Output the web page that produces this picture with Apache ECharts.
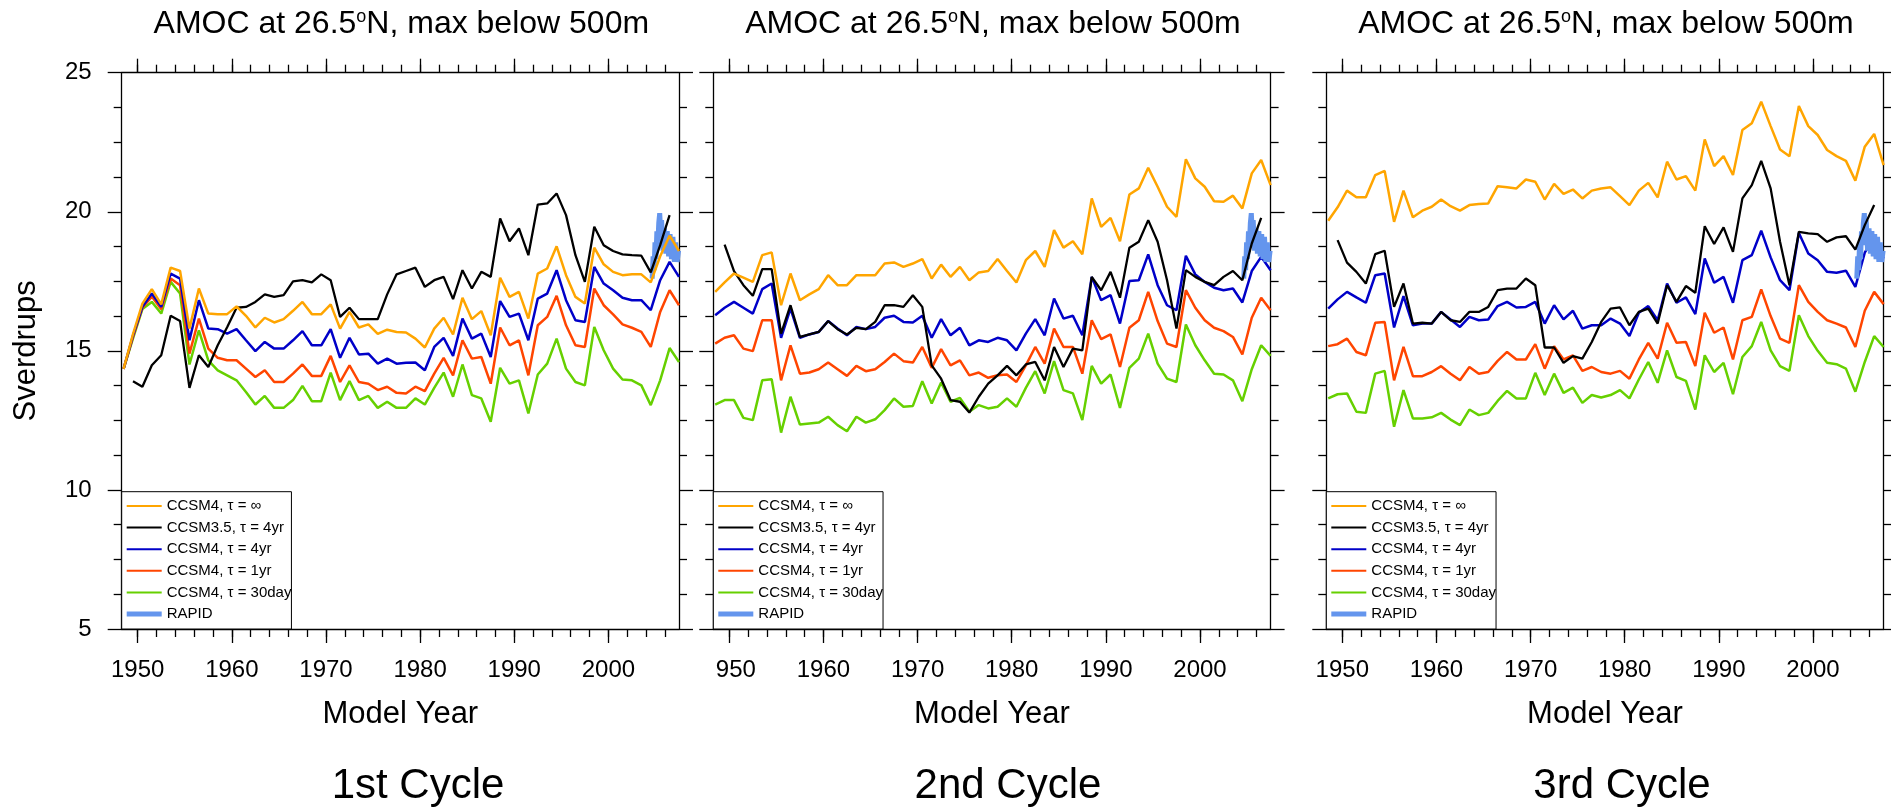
<!DOCTYPE html>
<html>
<head>
<meta charset="utf-8">
<title>AMOC at 26.5N, max below 500m</title>
<script src="https://cdn.jsdelivr.net/npm/echarts@6.0.0/dist/echarts.min.js"></script>
<style>
html, body { margin: 0; padding: 0; background: #fff; }
#chart { width: 1891px; height: 810px; }
</style>
</head>
<body>
<div id="chart"></div>
<script>
var FONT = '"Liberation Sans", Arial, Helvetica, sans-serif';

// annual means, plotted at mid-year
var years = [];
for (var yr = 1948; yr <= 2007; yr++) years.push(yr + 0.5);
// the CCSM3.5 run covers 1949.5 - 2006.5
var years35 = years.slice(1, 59);

var majorYears = [1950, 1960, 1970, 1980, 1990, 2000];
var minorYears = [1950, 1952, 1954, 1956, 1958, 1960, 1962, 1964, 1966, 1968,
                  1970, 1972, 1974, 1976, 1978, 1980, 1982, 1984, 1986, 1988,
                  1990, 1992, 1994, 1996, 1998, 2000, 2002, 2004, 2006];

var names = ['CCSM4, \u03c4 = \u221e', 'CCSM3.5, \u03c4 = 4yr', 'CCSM4, \u03c4 = 4yr',
             'CCSM4, \u03c4 = 1yr', 'CCSM4, \u03c4 = 30day', 'RAPID'];
var colors = ['#FFA500', '#000000', '#0000C8', '#FF4500', '#66D000', '#6495ED'];
var captions = ['1st Cycle', '2nd Cycle', '3rd Cycle'];

// RAPID array observations
var rapidTime = [2004.65, 2004.75, 2004.85, 2004.95, 2005.05, 2005.15, 2005.25, 2005.35,
                 2005.45, 2005.55, 2005.65, 2005.8, 2005.95, 2006.1, 2006.25, 2006.4,
                 2006.55, 2006.7, 2006.85, 2007.0, 2007.15, 2007.3, 2007.45];
var rapidSv = [17.6, 18.4, 17.9, 18.9, 18.3, 19.3, 18.8, 19.6,
               19.95, 19.3, 19.7, 18.6, 19.4, 18.5, 19.3, 18.4,
               19.2, 18.3, 19.1, 18.2, 18.9, 18.2, 18.6];

// ---- 1st cycle
var c1Inf = [14.35, 15.6, 16.7, 17.22, 16.67, 17.99, 17.87, 15.8, 17.24, 16.34,
  16.32, 16.32, 16.6, 16.26, 15.84, 16.19, 16.02, 16.14, 16.44, 16.76,
  16.32, 16.32, 16.67, 15.8, 16.4, 15.84, 15.95, 15.61, 15.76, 15.68,
  15.66, 15.44, 15.12, 15.8, 16.19, 15.59, 16.91, 16.14, 16.43, 15.56,
  17.63, 16.94, 17.12, 16.16, 17.78, 17.96, 18.76, 17.72, 16.94, 16.7,
  18.71, 18.11, 17.84, 17.72, 17.75, 17.75, 17.46, 18.4, 19.14, 18.59];
var c1Ccsm35 = [13.91, 13.71, 14.48, 14.84, 16.26, 16.07, 13.67, 14.84, 14.42,
  15.2, 15.85, 16.55, 16.58, 16.76, 17.03, 16.94, 17.0, 17.5, 17.54,
  17.46, 17.75, 17.54, 16.22, 16.55, 16.14, 16.14, 16.14, 17.03, 17.75,
  17.87, 17.99, 17.3, 17.54, 17.66, 16.86, 17.9, 17.24, 17.84, 17.66,
  19.76, 18.94, 19.4, 18.44, 20.26, 20.3, 20.66, 19.88, 18.44, 17.48,
  19.46, 18.8, 18.59, 18.47, 18.44, 18.42, 17.82, 18.8, 19.88];
var c1Tau4yr = [14.35, 15.55, 16.58, 17.06, 16.58, 17.78, 17.6, 15.38, 16.82, 15.8,
  15.78, 15.62, 15.78, 15.38, 14.99, 15.32, 15.08, 15.08, 15.38, 15.71,
  15.2, 15.2, 15.78, 14.75, 15.47, 14.87, 14.9, 14.54, 14.72, 14.54,
  14.57, 14.58, 14.3, 15.14, 15.47, 14.82, 16.16, 15.44, 15.62, 14.78,
  16.79, 16.22, 16.34, 15.38, 16.88, 17.06, 17.9, 16.82, 16.1, 16.04,
  18.02, 17.42, 17.18, 16.91, 16.82, 16.82, 16.46, 17.54, 18.2, 17.66];
var c1Tau1yr = [14.35, 15.5, 16.55, 16.95, 16.5, 17.6, 17.36, 14.9, 16.16, 15.08,
  14.75, 14.66, 14.66, 14.36, 14.06, 14.3, 13.88, 13.88, 14.18, 14.51,
  14.1, 14.1, 14.82, 13.88, 14.48, 13.88, 13.82, 13.59, 13.71, 13.49,
  13.47, 13.71, 13.55, 14.18, 14.75, 14.12, 15.38, 14.72, 14.78, 13.82,
  15.84, 15.2, 15.38, 14.12, 15.92, 16.22, 16.98, 15.92, 15.2, 15.14,
  17.24, 16.64, 16.31, 15.95, 15.83, 15.68, 15.14, 16.4, 17.18, 16.64];
var c1Tau30d = [14.35, 15.45, 16.5, 16.76, 16.34, 17.48, 17.06, 14.51, 15.74, 14.66,
  14.3, 14.12, 13.94, 13.52, 13.07, 13.38, 12.95, 12.95, 13.23, 13.74,
  13.19, 13.19, 14.22, 13.23, 13.91, 13.23, 13.38, 12.95, 13.17, 12.95,
  12.95, 13.29, 13.07, 13.67, 14.22, 13.35, 14.51, 13.41, 13.29, 12.45,
  14.39, 13.82, 13.94, 12.75, 14.15, 14.54, 15.44, 14.36, 13.88, 13.76,
  15.86, 15.02, 14.36, 13.97, 13.94, 13.76, 13.05, 13.94, 15.1, 14.6];

// ---- 2nd cycle
var c2Inf = [17.12, 17.46, 17.78, 17.63, 17.48, 18.44, 18.54, 16.64, 17.78, 16.82,
  17.03, 17.22, 17.72, 17.36, 17.36, 17.72, 17.72, 17.72, 18.14, 18.18,
  18.02, 18.14, 18.3, 17.6, 18.1, 17.66, 18.02, 17.54, 17.82, 17.87,
  18.3, 17.87, 17.46, 18.26, 18.59, 18.02, 19.34, 18.71, 18.94, 18.47,
  20.48, 19.46, 19.78, 18.94, 20.62, 20.84, 21.58, 20.9, 20.18, 19.82,
  21.89, 21.2, 20.9, 20.38, 20.36, 20.58, 20.12, 21.38, 21.86, 20.96];
var c2Ccsm35 = [18.82, 17.87, 17.36, 16.98, 17.94, 17.94, 15.62, 16.64, 15.5,
  15.59, 15.68, 16.07, 15.78, 15.59, 15.83, 15.78, 16.04, 16.64, 16.64,
  16.58, 17.0, 16.58, 14.48, 14.0, 13.23, 13.17, 12.78, 13.35, 13.82,
  14.12, 14.46, 14.12, 14.51, 14.6, 13.94, 15.14, 14.42, 15.08, 15.02,
  17.66, 17.18, 17.84, 16.91, 18.71, 18.92, 19.7, 18.92, 17.54, 15.8,
  17.9, 17.66, 17.48, 17.36, 17.66, 17.87, 17.54, 18.86, 19.78];
var c2Tau4yr = [16.28, 16.55, 16.76, 16.55, 16.34, 17.22, 17.42, 15.47, 16.52, 15.47,
  15.59, 15.68, 16.07, 15.8, 15.56, 15.86, 15.78, 15.86, 16.19, 16.26,
  16.04, 16.02, 16.26, 15.47, 16.14, 15.56, 15.83, 15.2, 15.38, 15.32,
  15.47, 15.38, 15.02, 15.62, 16.14, 15.56, 16.88, 16.16, 16.26, 15.56,
  17.66, 16.82, 17.0, 15.98, 17.51, 17.54, 18.47, 17.36, 16.64, 16.46,
  18.42, 17.75, 17.48, 17.27, 17.18, 17.24, 16.74, 17.87, 18.38, 17.9];
var c2Tau1yr = [15.26, 15.47, 15.56, 15.08, 14.99, 16.1, 16.1, 13.94, 15.2, 14.18,
  14.22, 14.34, 14.58, 14.34, 14.1, 14.46, 14.27, 14.34, 14.6, 14.9,
  14.63, 14.58, 15.14, 14.39, 15.06, 14.48, 14.66, 14.12, 14.22, 14.03,
  14.12, 14.15, 13.88, 14.48, 15.14, 14.54, 15.8, 15.14, 15.14, 14.18,
  16.1, 15.42, 15.59, 14.42, 15.83, 16.1, 17.12, 16.07, 15.26, 15.14,
  17.18, 16.55, 16.1, 15.83, 15.71, 15.5, 14.87, 16.19, 16.91, 16.46];
var c2Tau30d = [13.07, 13.23, 13.23, 12.59, 12.51, 13.94, 13.98, 12.06, 13.35, 12.35,
  12.39, 12.42, 12.63, 12.33, 12.11, 12.63, 12.42, 12.54, 12.87, 13.29,
  12.99, 13.02, 13.91, 13.11, 13.86, 13.17, 13.31, 12.81, 13.05, 12.93,
  12.99, 13.29, 12.99, 13.67, 14.27, 13.47, 14.63, 13.59, 13.47, 12.51,
  14.46, 13.82, 14.15, 12.95, 14.39, 14.72, 15.62, 14.54, 14.0, 13.88,
  15.95, 15.2, 14.66, 14.18, 14.15, 13.94, 13.19, 14.34, 15.2, 14.82];

// ---- 3rd cycle
var c3Inf = [19.68, 20.16, 20.76, 20.52, 20.52, 21.32, 21.47, 19.64, 20.76, 19.8,
  20.04, 20.18, 20.44, 20.2, 20.04, 20.24, 20.28, 20.3, 20.92, 20.88,
  20.84, 21.16, 21.08, 20.44, 21.0, 20.64, 20.8, 20.48, 20.76, 20.84,
  20.88, 20.56, 20.24, 20.76, 21.04, 20.52, 21.8, 21.16, 21.28, 20.76,
  22.6, 21.64, 22.0, 21.32, 22.94, 23.18, 23.96, 23.08, 22.24, 22.0,
  23.8, 23.08, 22.76, 22.22, 22.0, 21.83, 21.12, 22.34, 22.8, 21.68];
var c3Ccsm35 = [18.98, 18.17, 17.84, 17.42, 18.48, 18.6, 16.58, 17.42, 15.98,
  16.01, 15.98, 16.4, 16.1, 16.04, 16.4, 16.4, 16.58, 17.18, 17.24,
  17.24, 17.6, 17.36, 15.12, 15.12, 14.57, 14.81, 14.72, 15.32, 16.04,
  16.52, 16.56, 15.92, 16.4, 16.52, 15.98, 17.36, 16.76, 17.33, 17.09,
  19.48, 18.84, 19.44, 18.56, 20.48, 20.96, 21.83, 20.84, 18.92, 17.36,
  19.28, 19.22, 19.2, 18.92, 19.08, 19.12, 18.64, 19.52, 20.24];
var c3Tau4yr = [16.52, 16.85, 17.12, 16.92, 16.73, 17.72, 17.78, 15.84, 16.97, 15.92,
  15.98, 15.98, 16.4, 16.13, 15.86, 16.22, 16.1, 16.13, 16.61, 16.76,
  16.56, 16.58, 16.76, 15.98, 16.64, 16.13, 16.44, 15.8, 15.92, 15.92,
  16.16, 15.98, 15.53, 16.37, 16.61, 16.1, 17.42, 16.73, 16.92, 16.32,
  18.32, 17.45, 17.66, 16.73, 18.26, 18.44, 19.32, 18.36, 17.54, 17.18,
  19.24, 18.5, 18.26, 17.84, 17.81, 17.88, 17.3, 18.53, 19.1, 18.32];
var c3Tau1yr = [15.17, 15.24, 15.44, 14.96, 14.84, 16.01, 16.04, 13.94, 15.14, 14.09,
  14.09, 14.24, 14.45, 14.18, 13.94, 14.42, 14.18, 14.24, 14.64, 14.96,
  14.69, 14.69, 15.24, 14.36, 15.17, 14.69, 14.84, 14.28, 14.42, 14.24,
  14.18, 14.28, 14.0, 14.69, 15.29, 14.72, 16.01, 15.29, 15.32, 14.45,
  16.37, 15.65, 15.84, 14.69, 16.1, 16.22, 17.21, 16.25, 15.44, 15.29,
  17.36, 16.76, 16.4, 16.1, 15.98, 15.84, 15.14, 16.44, 17.12, 16.68];
var c3Tau30d = [13.29, 13.44, 13.47, 12.81, 12.77, 14.18, 14.28, 12.27, 13.59, 12.57,
  12.57, 12.61, 12.77, 12.53, 12.33, 12.89, 12.69, 12.77, 13.2, 13.56,
  13.29, 13.29, 14.21, 13.41, 14.18, 13.49, 13.68, 13.13, 13.41, 13.32,
  13.41, 13.59, 13.29, 13.97, 14.6, 13.85, 15.02, 14.06, 13.92, 12.89,
  14.84, 14.24, 14.57, 13.44, 14.78, 15.17, 16.04, 15.02, 14.45, 14.28,
  16.28, 15.53, 15.0, 14.57, 14.52, 14.36, 13.53, 14.6, 15.53, 15.14];

var cycles = [
    [c1Inf, c1Ccsm35, c1Tau4yr, c1Tau1yr, c1Tau30d],
    [c2Inf, c2Ccsm35, c2Tau4yr, c2Tau1yr, c2Tau30d],
    [c3Inf, c3Ccsm35, c3Tau4yr, c3Tau1yr, c3Tau30d]
];

// layout of the three panels
var panelLeft = [121.7, 713.3, 1326.3];
var plotW = 557.3, plotTop = 72.7, plotH = 556.3;

function pairs(xs, vs) {
    return vs.map(function (v, i) { return [xs[i], v]; });
}

var dom = document.getElementById('chart');
var myChart = echarts.init(dom);

var axisLineStyle = { color: '#000', width: 1.3 };
var grids = [], xAxes = [], yAxes = [], series = [], legends = [], graphics = [];

panelLeft.forEach(function (left, p) {
    grids.push({ left: left, top: plotTop, width: plotW, height: plotH, outerBoundsMode: 'none', containLabel: false });

    var xBase = { gridIndex: p, type: 'value', min: 1948.3, max: 2007.5, splitLine: { show: false } };
    // bottom, major ticks + labels
    xAxes.push(Object.assign({}, xBase, {
        position: 'bottom',
        name: 'Model Year', nameLocation: 'middle', nameGap: 70,
        nameTextStyle: { fontSize: 31, color: '#000', fontFamily: FONT },
        axisLine: { show: true, onZero: false, lineStyle: axisLineStyle },
        axisTick: { show: true, customValues: majorYears, length: 14, lineStyle: axisLineStyle },
        axisLabel: {
            show: true, customValues: majorYears, margin: 29, fontSize: 24, color: '#000', fontFamily: FONT,
            formatter: function (v) {
                // the left part of the middle panel is cut off in the original picture
                if (p === 1 && v === 1950) return '{cut|950}';
                return String(v);
            },
            rich: { cut: { fontSize: 24, color: '#000', fontFamily: FONT, padding: [0, 0, 0, 13] } }
        }
    }));
    // bottom, minor ticks
    xAxes.push(Object.assign({}, xBase, {
        position: 'bottom',
        axisLine: { show: false, onZero: false },
        axisTick: { show: true, customValues: minorYears, length: 8, lineStyle: axisLineStyle },
        axisLabel: { show: false }
    }));
    // top, major ticks
    xAxes.push(Object.assign({}, xBase, {
        position: 'top',
        axisLine: { show: true, onZero: false, lineStyle: axisLineStyle },
        axisTick: { show: true, customValues: majorYears, length: 14, lineStyle: axisLineStyle },
        axisLabel: { show: false }
    }));
    // top, minor ticks
    xAxes.push(Object.assign({}, xBase, {
        position: 'top',
        axisLine: { show: false, onZero: false },
        axisTick: { show: true, customValues: minorYears, length: 8, lineStyle: axisLineStyle },
        axisLabel: { show: false }
    }));

    var yBase = {
        gridIndex: p, type: 'value', min: 5, max: 25, interval: 5,
        splitLine: { show: false },
        axisLine: { show: true, onZero: false, lineStyle: axisLineStyle },
        axisTick: { show: true, length: 14, lineStyle: axisLineStyle },
        minorTick: { show: true, splitNumber: 4, length: 8, lineStyle: axisLineStyle }
    };
    yAxes.push(Object.assign({}, yBase, {
        position: 'left',
        name: p === 0 ? 'Sverdrups' : '', nameLocation: 'middle', nameGap: 80,
        nameTextStyle: { fontSize: 31, color: '#000', fontFamily: FONT },
        axisLabel: { show: p === 0, margin: 30, fontSize: 24, color: '#000', fontFamily: FONT }
    }));
    yAxes.push(Object.assign({}, yBase, {
        position: 'right',
        axisLabel: { show: false }
    }));

    var runs = cycles[p];
    function line(i, xs, vs, width, z) {
        return {
            name: names[i], type: 'line', xAxisIndex: 4 * p, yAxisIndex: 2 * p,
            data: pairs(xs, vs), symbol: 'none', showSymbol: false, z: z,
            lineStyle: { color: colors[i], width: width },
            itemStyle: { color: colors[i] },
            emphasis: { disabled: true }
        };
    }
    series.push(line(4, years, runs[4], 2.5, 2));
    series.push(line(3, years, runs[3], 2.5, 3));
    series.push(line(2, years, runs[2], 2.5, 4));
    series.push(line(5, rapidTime, rapidSv, 5, 5));
    series.push(line(1, years35, runs[1], 2.3, 6));
    series.push(line(0, years, runs[0], 2.5, 7));

    legends.push({
        orient: 'vertical', left: left, top: 491.7,
        padding: [6.8, 0, 7.5, 5], itemWidth: 35, itemHeight: 6, itemGap: 6.6,
        borderColor: '#000', borderWidth: 1, backgroundColor: '#fff',
        selectedMode: false, symbolKeepAspect: true,
        textStyle: { fontSize: 15, lineHeight: 15, color: '#000', fontFamily: FONT },
        data: names.map(function (n, i) {
            return {
                name: n,
                icon: i === 5 ? 'path://M0,0h35v5h-35z' : 'path://M0,0h35v2h-35z',
                itemStyle: { color: colors[i], borderWidth: 0 }
            };
        })
    });

    graphics.push({
        type: 'text', x: left + plotW / 2 + 1, y: 24, silent: true,
        style: {
            text: 'AMOC at 26.5{sup|o}N, max below 500m',
            fontSize: 32, fontFamily: FONT, fill: '#000', align: 'center', verticalAlign: 'middle',
            rich: { sup: { fontSize: 18, fontFamily: FONT, fill: '#000', verticalAlign: 'top' } }
        }
    });
});

graphics.push({ type: 'text', x: 418, y: 786, silent: true,
    style: { text: captions[0], fontSize: 42, fontFamily: FONT, fill: '#000', align: 'center', verticalAlign: 'middle' } });
graphics.push({ type: 'text', x: 1008, y: 786, silent: true,
    style: { text: captions[1], fontSize: 42, fontFamily: FONT, fill: '#000', align: 'center', verticalAlign: 'middle' } });
graphics.push({ type: 'text', x: 1622, y: 786, silent: true,
    style: { text: captions[2], fontSize: 42, fontFamily: FONT, fill: '#000', align: 'center', verticalAlign: 'middle' } });

var option = {
    animation: false,
    backgroundColor: '#fff',
    textStyle: { fontFamily: FONT },
    grid: grids,
    xAxis: xAxes,
    yAxis: yAxes,
    legend: legends,
    graphic: graphics,
    series: series
};

if (option && typeof option === 'object') {
    myChart.setOption(option, true);
}
window.addEventListener('resize', function () { myChart.resize(); });
</script>
</body>
</html>
